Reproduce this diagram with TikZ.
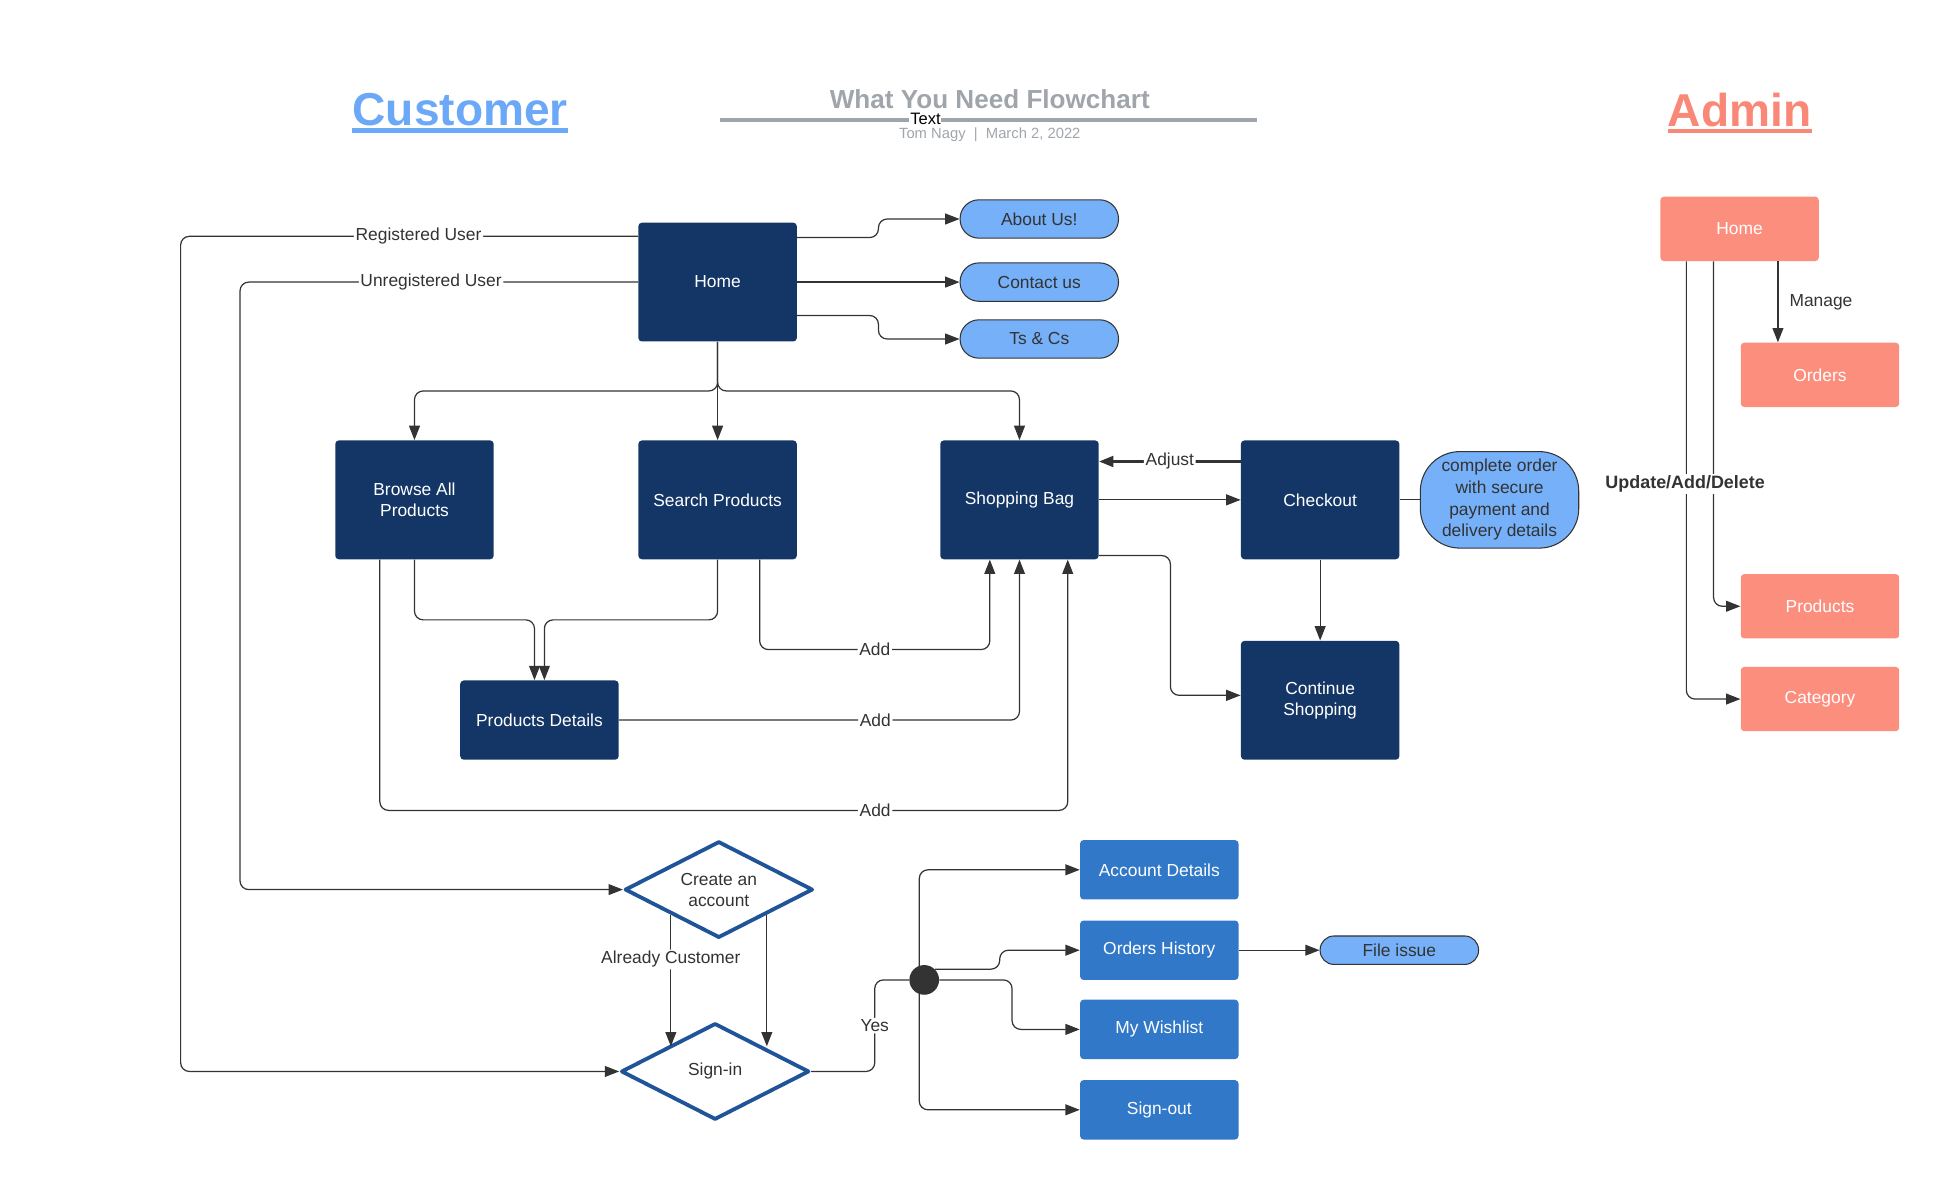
\documentclass[tikz,border=0pt]{standalone}
\usepackage{fontspec}
\setmainfont{Liberation Sans}
\usetikzlibrary{arrows.meta,shapes.geometric}

\definecolor{navy}{RGB}{20,54,102}
\definecolor{pillblue}{RGB}{117,176,248}
\definecolor{midblue}{RGB}{49,120,200}
\definecolor{diamblue}{RGB}{31,84,152}
\definecolor{salmon}{RGB}{252,142,126}
\definecolor{custblue}{RGB}{108,168,248}
\definecolor{adminred}{RGB}{249,136,120}
\definecolor{titlegray}{RGB}{160,165,172}
\definecolor{linegray}{RGB}{51,51,51}

\tikzset{
  navybox/.style={rectangle, rounded corners=2pt, fill=navy, text=white, align=center,
    minimum width=3.2cm, minimum height=2.4cm, inner sep=2pt, font=\fontsize{10}{12}\selectfont},
  bluebox/.style={navybox, fill=midblue, minimum height=1.2cm},
  adminbox/.style={navybox, fill=salmon, minimum height=1.3cm},
  pill/.style={rectangle, rounded corners=0.38cm, draw=linegray, line width=0.6pt, fill=pillblue,
    text=linegray, align=center, minimum width=3.2cm, minimum height=0.775cm, inner sep=2pt,
    font=\fontsize{10}{12.4}\selectfont},
  choice/.style={diamond, aspect=2, draw=diamblue, line width=2.2pt, line join=round, fill=white,
    text=linegray, align=center, minimum width=3.8cm, minimum height=1.95cm, inner sep=0pt,
    font=\fontsize{10}{12}\selectfont},
  link/.style={draw=linegray, line width=0.7pt, rounded corners=5pt,
    -{Triangle[length=0.29cm,width=0.22cm]}},
  plain/.style={draw=linegray, line width=0.7pt, rounded corners=5pt},
  lbl/.style={fill=white, inner sep=1pt, text=linegray, font=\fontsize{10}{12}\selectfont}
}

\begin{document}
\begin{tikzpicture}[x=0.025cm, y=-0.025cm]
   \useasboundingbox (0,0) rectangle (1568,954);
   % titles
   \node[inner sep=0pt, text=custblue, font=\fontsize{26.5}{30}\selectfont\bfseries] (custtitle) at (372,89) {Customer};
   \draw[custblue, line width=2.5pt] ([yshift=-2.5pt]custtitle.base west) -- ([yshift=-2.5pt]custtitle.base east);
   \node[inner sep=0pt, text=adminred, font=\fontsize{26.5}{30}\selectfont\bfseries] (admintitle) at (1406,89) {Admin};
   \draw[adminred, line width=2.5pt] ([yshift=-2.5pt]admintitle.base west) -- ([yshift=-2.5pt]admintitle.base east);
   \node[inner sep=0pt, text=titlegray, font=\fontsize{15}{18}\selectfont\bfseries] (chart) at (800,80) {What You Need Flowchart};
   \draw[titlegray, line width=2pt] (582,97) -- (1016,97);
   \node[fill=white, inner sep=0.5pt, font=\fontsize{9.5}{11}\selectfont] (txt) at (748,96) {Text};
   \node[text=titlegray, font=\fontsize{8.5}{10}\selectfont] (byline) at (800,109) {Tom Nagy \ | \ March 2, 2022};

   % customer side
   \node[navybox] (chome) at (580,228) {Home};
   \node[pill] (about) at (840,177) {About Us!};
   \node[pill] (contact) at (840,228) {Contact us};
   \node[pill] (tcs) at (840,274) {Ts \& Cs};
   \node[navybox] (browse) at (335,404) {Browse All\\Products};
   \node[navybox] (search) at (580,404) {Search Products};
   \node[navybox] (bag) at (824,404) {Shopping Bag};
   \node[navybox] (checkout) at (1067,404) {Checkout};
   \node[pill, minimum height=1.95cm, rounded corners=0.8cm] (order) at (1212,404) {complete order\\with secure\\payment and\\delivery details};
   \node[navybox, minimum height=1.6cm] (details) at (436,582) {Products Details};
   \node[navybox] (cont) at (1067,566) {Continue\\Shopping};
   \node[choice] (create) at (581,719) {Create an\\account};
   \node[choice] (signin) at (578,866) {Sign-in};
   \node[circle, fill=linegray, minimum size=0.6cm, inner sep=0pt] (hub) at (747,792) {};
   \node[bluebox] (acct) at (937,703) {Account Details};
   \node[bluebox] (hist) at (937,768) {Orders History};
   \node[bluebox] (wish) at (937,832) {My Wishlist};
   \node[bluebox] (signout) at (937,897) {Sign-out};
   \node[pill, minimum height=0.575cm, rounded corners=0.28cm] (issue) at (1131,768) {File issue};

   % admin side
   \node[adminbox] (ahome) at (1406,185) {Home};
   \node[adminbox] (aorders) at (1471,303) {Orders};
   \node[adminbox] (aprod) at (1471,490) {Products};
   \node[adminbox] (acat) at (1471,565) {Category};

   % home links
   \draw[link] (chome.east |- 0,192) -- (710,192) -- (710,177) -- (about.west);
   \draw[link] (chome.east) -- (contact.west);
   \draw[link] (chome.east |- 0,255) -- (710,255) -- (710,274) -- (tcs.west);
   \draw[link] (chome.west |- 0,191) -- node[lbl, pos=0.48]{Registered User} (146,191) -- (146,866) -- (signin.west);
   \draw[link] (chome.west |- 0,228) -- node[lbl, pos=0.52]{Unregistered User} (194,228) -- (194,719) -- (create.west);
   \draw[link] (chome.south) -- (580,316) -| (browse.north);
   \draw[link] (chome.south) -- (search.north);
   \draw[link] (chome.south) -- (580,316) -| (bag.north);

   % products
   \draw[link] (browse.south) |- (432,501) -- (432,0 |- details.north);
   \draw[link] (search.south) |- (440,501) -- (440,0 |- details.north);
   \draw[link] (614,0 |- search.south) |- node[lbl, pos=0.75]{Add} (800,525) -- (800,0 |- bag.south);
   \draw[link] (details.east) -- node[lbl, pos=0.64]{Add} (824,582) -- (bag.south);
   \draw[link] (307,0 |- browse.south) |- node[lbl, pos=0.86]{Add} (863,655) -- (863,0 |- bag.south);

   % bag and checkout
   \draw[link, line width=1.4pt] (checkout.west |- 0,373) -- node[lbl]{Adjust} (bag.east |- 0,373);
   \draw[link] (bag.east) -- (checkout.west);
   \draw[link] (bag.east |- 0,449) -| (946,562) -- (cont.west |- 0,562);
   \draw[link] (checkout.south) -- (cont.north);
   \draw[plain] (checkout.east) -- (order.west);

   % account
   \draw[link] (create.south west) -- node[lbl, pos=0.34]{Already Customer} (create.south west |- signin.north west);
   \draw[link] (create.south east) -- (create.south east |- signin.north east);
   \draw[plain] (signin.east) -- (707,866) -- node[lbl]{Yes} (707,792) -- (hub.west);
   \draw[link] (743,0 |- hub.center) |- (acct.west);
   \draw[link] (743,0 |- hub.center) |- (signout.west);
   \draw[link] (hub.north east) -- (808,0 |- hub.north east) -- (808,768) -- (hist.west);
   \draw[link] (hub.east) -| (818,832) -- (wish.west);
   \draw[link] (hist.east) -- (issue.west);

   % admin links
   \draw[link] (1437,0 |- ahome.south) -- node[right=3pt, text=linegray, font=\fontsize{10}{12}\selectfont]{Manage} (1437,0 |- aorders.north);
   \draw[link] (1385,0 |- ahome.south) |- (aprod.west);
   \draw[link] (1363,0 |- ahome.south) |- (acat.west);
   \node[lbl, font=\fontsize{10.3}{12}\selectfont\bfseries] (uad) at (1362,391) {Update/Add/Delete};
\end{tikzpicture}
\end{document}
